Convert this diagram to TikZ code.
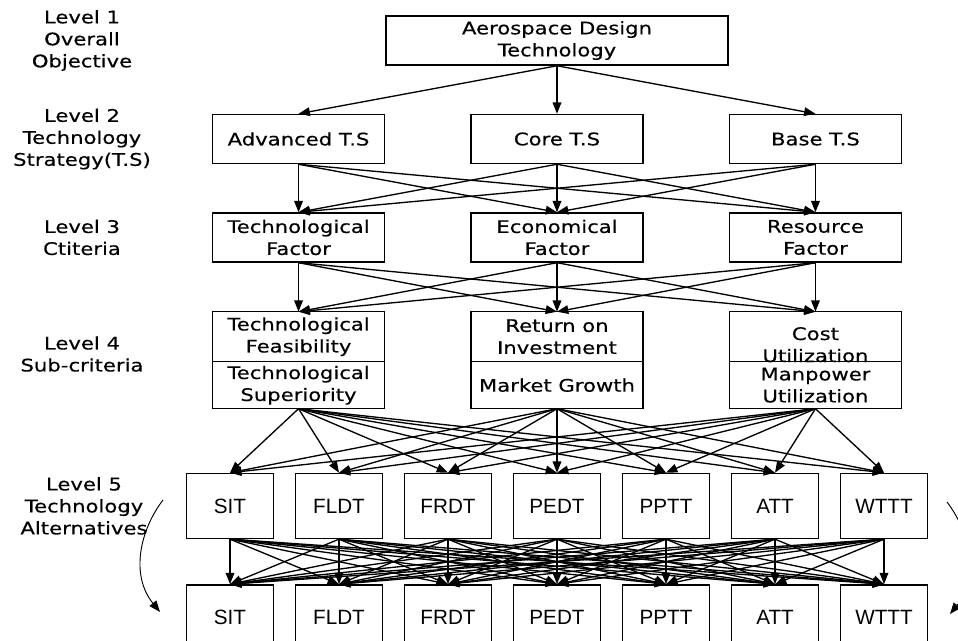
\documentclass[tikz,border=0pt]{standalone}
\usepackage{fontspec}
\setmainfont[FakeStretch=1.22, FakeBold=0.4]{DejaVu Sans}
\newfontfamily\altfont{Liberation Sans}
\usetikzlibrary{arrows.meta, positioning}

\begin{document}
\begin{tikzpicture}[
    node distance=36pt and 63.75pt,
    lvlbox/.style={rectangle, draw, line width=1.1pt, minimum width=129pt,
                   minimum height=36.75pt, align=center, inner sep=1pt,
                   font=\fontsize{13}{16.5}\selectfont},
    topbox/.style={lvlbox, minimum width=256.5pt},
    subbox/.style={lvlbox, outer sep=0pt, minimum height=37.5pt},
    altbox/.style={rectangle, draw, line width=1.1pt, minimum width=65.25pt,
                   minimum height=48.75pt, inner sep=1pt,
                   font=\altfont\fontsize{15.5}{18}\selectfont},
    lvltext/.style={align=center, font=\fontsize{13}{16.5}\selectfont},
    arr/.style={-{Triangle[length=8.5pt, width=6.5pt]}, line width=1pt},
]
\useasboundingbox (0,0) rectangle (718.5pt,-480pt);

% level 1
\node[topbox] (goal) at (417.75pt,-30.4pt) {Aerospace Design\\Technology};

% level 2
\node[lvlbox, below=of goal] (ts2) {Core T.S};
\node[lvlbox, left=of ts2] (ts1) {Advanced T.S};
\node[lvlbox, right=of ts2] (ts3) {Base T.S};

% level 3
\node[lvlbox, below=of ts1] (cr1) {Technological\\Factor};
\node[lvlbox, below=of ts2] (cr2) {Economical\\Factor};
\node[lvlbox, below=of ts3] (cr3) {Resource\\Factor};

% level 4
\node[subbox, below=36.75pt of cr1] (subu1) {Technological\\Feasibility};
\node[subbox, below=0pt of subu1, minimum height=35.25pt] (subl1) {Technological\\Superiority};
\node[subbox, below=36.75pt of cr2] (subu2) {Return on\\Investment};
\node[subbox, below=0pt of subu2, minimum height=35.25pt] (subl2) {Market Growth};
\node[subbox, below=36.75pt of cr3,
      label={[lvltext, yshift=-6pt]center:Cost\\Utilization}] (subu3) {};
\node[subbox, below=0pt of subu3, minimum height=35.25pt] (subl3) {Manpower\\Utilization};

% level 5
\node[altbox, below=48pt of subl2] (alt4) {PEDT};
\node[altbox, left=15.4pt of alt4] (alt3) {FRDT};
\node[altbox, left=15.4pt of alt3] (alt2) {FLDT};
\node[altbox, left=15.4pt of alt2] (alt1) {SIT};
\node[altbox, right=15.4pt of alt4] (alt5) {PPTT};
\node[altbox, right=15.4pt of alt5] (alt6) {ATT};
\node[altbox, right=15.4pt of alt6] (alt7) {WTTT};

\node[altbox, below=33.75pt of alt1] (cmp1) {SIT};
\node[altbox, below=33.75pt of alt2] (cmp2) {FLDT};
\node[altbox, below=33.75pt of alt3] (cmp3) {FRDT};
\node[altbox, below=33.75pt of alt4] (cmp4) {PEDT};
\node[altbox, below=33.75pt of alt5] (cmp5) {PPTT};
\node[altbox, below=33.75pt of alt6] (cmp6) {ATT};
\node[altbox, below=33.75pt of alt7] (cmp7) {WTTT};

% level captions
\node[lvltext] (lab1) at (61.5pt,0 |- goal) {Level 1\\Overall\\Objective};
\node[lvltext] (lab2) at (61.5pt,0 |- ts1) {Level 2\\Technology\\Strategy(T.S)};
\node[lvltext] (lab3) at (61.5pt,0 |- cr1) {Level 3\\Ctiteria};
\node[lvltext] (lab4) at (61.5pt,-265.5pt) {Level 4\\Sub-criteria};
\node[lvltext] (lab5) at (63pt,0 |- alt1) {Level 5\\Technology\\Alternatives};

% connectors
\draw[arr] (goal.south) -- (ts1.north);
\draw[arr] (goal.south) -- (ts2.north);
\draw[arr] (goal.south) -- (ts3.north);

\foreach \i in {1,2,3}
  \foreach \j in {1,2,3}
    \draw[arr] (ts\i.south) -- (cr\j.north);

\foreach \i in {1,2,3}
  \foreach \j in {1,2,3}
    \draw[arr] (cr\i.south) -- (subu\j.north);

\foreach \i in {1,2,3}
  \foreach \j in {1,...,7}
    \draw[arr] (subl\i.south) -- (alt\j.north);

\foreach \i in {1,...,7}
  \foreach \j in {1,...,7}
    \draw[arr] (alt\i.south) -- (cmp\j.north);

% pairwise comparison arcs
\coordinate (pairL1) at (122.25pt,-375pt);
\coordinate (pairL2) at (120pt,-459pt);
\coordinate (pairR1) at (710.25pt,-376.5pt);
\coordinate (pairR2) at (712.5pt,-460.5pt);
\draw[arr, line width=0.7pt] (pairL1) .. controls (105pt,-397.5pt) and (97.5pt,-431.25pt) .. (pairL2);
\draw[arr, line width=0.7pt] (pairR1) .. controls (727.5pt,-399pt) and (735pt,-432.75pt) .. (pairR2);

\end{tikzpicture}
\end{document}
